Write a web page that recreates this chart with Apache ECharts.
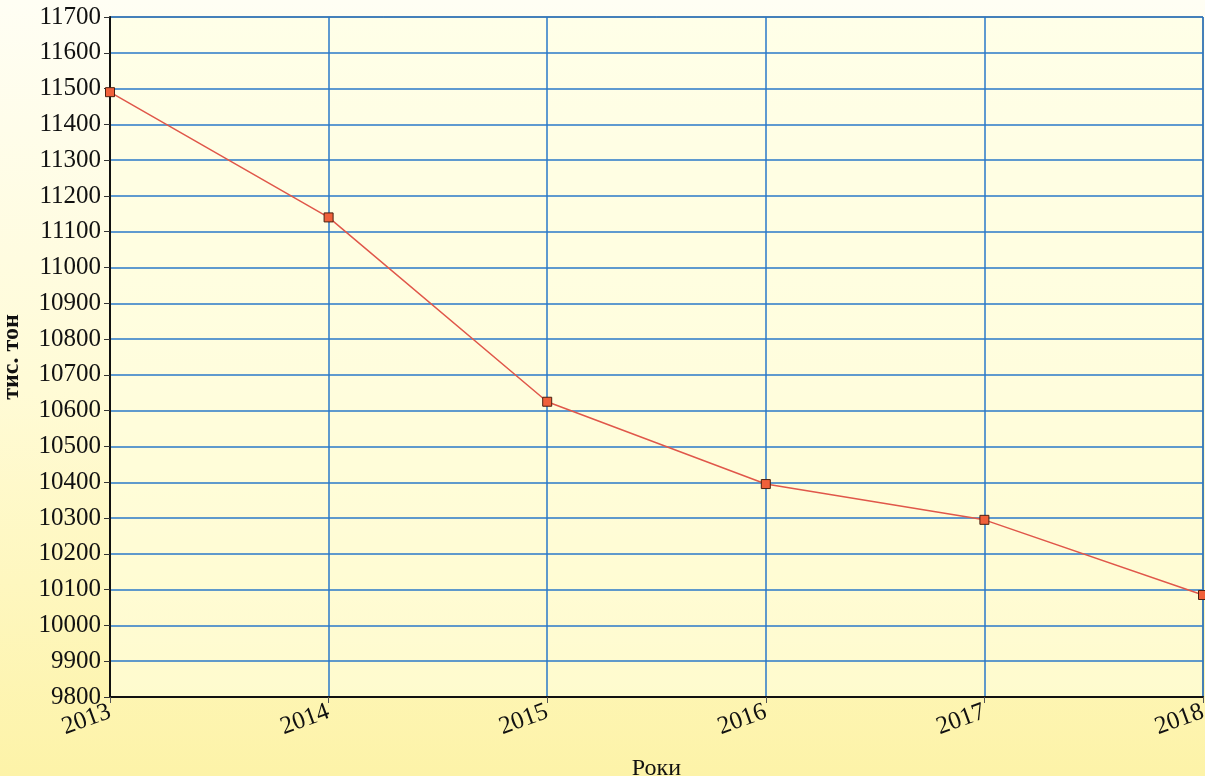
<!DOCTYPE html>
<html>
<head>
<meta charset="utf-8">
<script src="https://cdn.jsdelivr.net/npm/echarts@6/dist/echarts.min.js"></script>
<style>
  html, body { margin: 0; padding: 0; }
  #chart { width: 1205px; height: 776px; }
</style>
</head>
<body>
<div id="chart"></div>
<script>
const years = ['2013', '2014', '2015', '2016', '2017', '2018'];
const values = [11490, 11140, 10625, 10395, 10295, 10085];
const yMin = 9800;
const yMax = 11700;
const yStep = 100;

const chart = echarts.init(document.getElementById('chart'));

const serif = '"Liberation Serif", "DejaVu Serif", serif';

var option = {
  backgroundColor: {
    type: 'linear', x: 0, y: 0, x2: 0, y2: 1,
    colorStops: [
      { offset: 0, color: '#fffef4' },
      { offset: 0.5, color: '#fffbd6' },
      { offset: 1, color: '#fdf3a8' }
    ]
  },
  grid: {
    left: 110,
    right: 2,
    top: 17,
    bottom: 79,
    outerBoundsMode: 'none',
    containLabel: false,
    show: true,
    backgroundColor: 'rgba(255,255,225,0.6)',
    borderColor: '#333',
    borderWidth: 1
  },
  xAxis: {
    type: 'category',
    boundaryGap: false,
    data: years,
    name: 'Роки',
    nameLocation: 'middle',
    nameGap: 60,
    nameTextStyle: { fontFamily: serif, fontSize: 24, color: '#111' },
    axisLine: { lineStyle: { color: '#111', width: 2 } },
    axisTick: { show: true, length: 6, lineStyle: { color: '#555' } },
    axisLabel: {
      rotate: 20,
      margin: 14,
      fontFamily: serif,
      fontSize: 25,
      color: '#111'
    },
    splitLine: { show: true, lineStyle: { color: '#2a78c8', width: 1.5 } }
  },
  yAxis: {
    type: 'value',
    min: yMin,
    max: yMax,
    interval: yStep,
    name: 'тис. тон',
    nameLocation: 'middle',
    nameRotate: 90,
    nameGap: 86,
    nameTextStyle: { fontFamily: serif, fontSize: 24, fontWeight: 'bold', color: '#111' },
    axisLine: { show: true, lineStyle: { color: '#111', width: 2 } },
    axisTick: { show: true, length: 6, lineStyle: { color: '#333' } },
    axisLabel: {
      margin: 9,
      fontFamily: serif,
      fontSize: 25,
      color: '#111',
      formatter: function (v) { return String(v); }
    },
    splitLine: { show: true, lineStyle: { color: '#2a78c8', width: 1.5 } }
  },
  series: [{
    type: 'line',
    data: values,
    symbol: 'rect',
    symbolSize: 9,
    lineStyle: { color: '#e0574a', width: 1.5 },
    itemStyle: { color: '#f0603a', borderColor: '#4a2010', borderWidth: 1 },
    clip: false
  }]
};

chart.setOption(option);
</script>
</body>
</html>
